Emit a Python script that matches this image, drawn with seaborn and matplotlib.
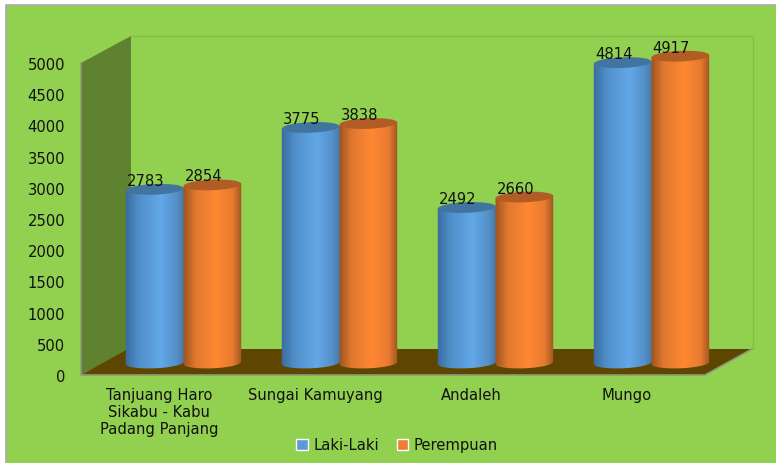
import numpy as np
import pandas as pd
import matplotlib
matplotlib.use("Agg")
import matplotlib.pyplot as plt
from matplotlib.colors import LinearSegmentedColormap
from matplotlib.patches import Polygon, Ellipse
from matplotlib.path import Path
from matplotlib.transforms import IdentityTransform
import seaborn as sns

categories = ["Tanjuang Haro\nSikabu - Kabu\nPadang Panjang", "Sungai Kamuyang", "Andaleh", "Mungo"]
laki_laki = [2783, 3775, 2492, 4814]
perempuan = [2854, 3838, 2660, 4917]
series_names = ["Laki-Laki", "Perempuan"]
y_ticks = [0, 500, 1000, 1500, 2000, 2500, 3000, 3500, 4000, 4500, 5000]

W, H = 776, 464
GREEN, WALL, FLOOR = "#92D050", "#5F8231", "#5E4600"
BLUE, ORANGE = "#5B9BD5", "#ED7D31"
TEXT = "#111111"
FS = 10.6

df = pd.DataFrame({
    "cat": categories * 2,
    "val": laki_laki + perempuan,
    "series": [series_names[0]] * 4 + [series_names[1]] * 4,
})

sns.set_theme(style="white")
plt.rcParams["font.family"] = ["DejaVu Sans"]
fig = plt.figure(figsize=(W / 100, H / 100), dpi=100, facecolor="white")


def px_axes(x0, y0, x1, y1, **kw):
    return fig.add_axes([x0 / W, 1 - y1 / H, (x1 - x0) / W, (y1 - y0) / H], **kw)


# Chart room: background, walls and floor in pixel space
bg = fig.add_axes([0, 0, 1, 1], zorder=0)
bg.set_xlim(0, W)
bg.set_ylim(H, 0)
bg.axis("off")
bg.add_patch(Polygon([(6, 6), (W + 5, 6), (W + 5, H + 5), (6, H + 5)], fc=GREEN, ec="none"))
bg.plot([6, 6, W], [H, 6, 6], color="#A9A9A9", lw=1.2)
bg.plot([131, 753, 753], [37, 37, 350], color="#84BE48", lw=1)
bg.add_patch(Polygon([(81, 64), (131, 37), (131, 350), (81, 376)], fc=WALL, ec="none"))
bg.add_patch(Polygon([(81, 376), (128, 350), (752, 350), (705, 376)], fc=FLOOR, ec="none"))
bg.plot([81, 81, 705, 752], [64, 376, 376, 350], color="#8F9A7A", lw=1.2)

# Front plane: carries the value and category tick labels
front = px_axes(81, 64, 705, 376, zorder=1)
front.patch.set_alpha(0)
front.set_xlim(-0.5, 3.5)
front.set_ylim(0, 5000)
front.set_yticks(y_ticks)
front.set_xticks(range(4))
front.set_xticklabels(categories, linespacing=1.18)
front.tick_params(axis="both", length=0, labelsize=FS, labelcolor=TEXT)
front.tick_params(axis="y", pad=11.5)
front.tick_params(axis="x", pad=8.5)
sns.despine(ax=front, left=True, bottom=True)

# Bars sit further back, offset from the front plane
BASE_PX = 364
ax = px_axes(105.5, 37, 729.5, 376, zorder=2)
ax.patch.set_alpha(0)
sns.barplot(data=df, x="cat", y="val", hue="series", order=categories, hue_order=series_names,
            palette=[BLUE, ORANGE], saturation=1, width=0.74, gap=0, ax=ax, legend=True)
ylims = (-(376 - BASE_PX) / 0.0624, (BASE_PX - 37) / 0.0624)
ax.set_xlim(-0.5, 3.5)
ax.set_ylim(*ylims)
ax.set_axis_off()
handles, labels = ax.get_legend_handles_labels()
ax.get_legend().remove()

cmaps = [
    LinearSegmentedColormap.from_list("b", [(0, "#38689A"), (.22, "#4F8DC8"), (.6, "#62A8E8"), (.85, "#5590C8"), (1, "#44749F")]),
    LinearSegmentedColormap.from_list("o", [(0, "#97501F"), (.22, "#E07830"), (.55, "#FF8833"), (.82, "#E87A30"), (1, "#8F4E1E")]),
]
tops = ["#41749F", "#B25C25"]
SLOPE = 0.04   # visual tilt of the cylinder rims
SEMI_H = 5.3
MARGIN = 0.012  # image overscan so the clip path alone shapes the cylinder edge
grad = np.linspace(0, 1, 128)[None, :]

for s, (container, vals) in enumerate(zip(ax.containers[:2], [laki_laki, perempuan])):
    for i, (bar, v) in enumerate(zip(container, vals)):
        x0, w = bar.get_x(), bar.get_width()
        bar.set_visible(False)
        z = 3 + i * 2 + s * 0.5
        (lx, by), (rx, ty) = ax.transData.transform([(x0, 0), (x0 + w, v)])
        cx, a = (lx + rx) / 2, (rx - lx) / 2
        t = np.linspace(np.pi, 2 * np.pi, 60)
        arc = np.c_[cx + a * np.cos(t), by + SEMI_H * np.sin(t) + SLOPE * a * np.cos(t)]
        seam = 1.0 if s == 0 else 0.0   # blue runs just under the orange neighbour
        outline = np.vstack([[(lx, ty - SLOPE * a)], arc, [(rx + seam, by)], [(rx + seam, ty + SLOPE * a)],
                             [(lx, ty - SLOPE * a)]])
        im = ax.imshow(grad, cmap=cmaps[s], aspect="auto", zorder=z,
                       extent=(x0 - MARGIN, x0 + w + MARGIN, ylims[0], v + 200))
        im.set_clip_path(Path(outline), IdentityTransform())
        ax.add_patch(Ellipse((cx, ty), 2 * a, 2 * SEMI_H, angle=np.degrees(np.arctan(SLOPE)),
                             transform=IdentityTransform(), fc=tops[s], ec="none", zorder=z + 0.1))
        ax.annotate(str(v), (x0 + w / 2, v), xytext=(-9, 9), textcoords="offset pixels",
                    ha="center", va="center", fontsize=FS, color=TEXT, zorder=50)

ax.set_xlim(-0.5, 3.5)
ax.set_ylim(*ylims)

fig.legend(handles, labels, loc="center", bbox_to_anchor=(397 / W, 1 - 446 / H), ncol=2, frameon=False,
           fontsize=FS, handlelength=0.8, handleheight=0.8, handletextpad=0.35, columnspacing=1.2,
           labelcolor=TEXT)

fig.savefig("out.png", dpi=100)
